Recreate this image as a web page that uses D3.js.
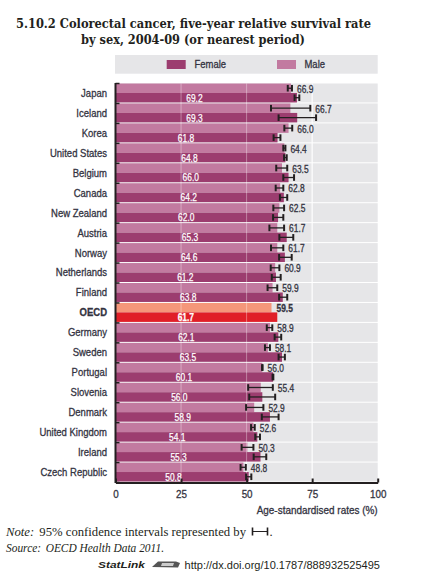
<!DOCTYPE html>
<html><head><meta charset="utf-8">
<script src="https://cdn.jsdelivr.net/npm/d3@7"></script>
<style>
html,body{margin:0;padding:0;background:#fff;}
svg{display:block;}
</style></head>
<body>
<svg id="chart" width="429" height="576"></svg>
<script>
const countries = ["Japan","Iceland","Korea","United States","Belgium","Canada","New Zealand","Austria","Norway","Netherlands","Finland","OECD","Germany","Sweden","Portugal","Slovenia","Denmark","United Kingdom","Ireland","Czech Republic"];
const maleVals   = [66.9,66.7,66.0,64.4,63.5,62.8,62.5,61.7,61.7,60.9,59.9,59.5,58.9,58.1,56.0,55.4,52.9,52.6,50.3,48.8];
const femaleVals = [69.2,69.3,61.8,64.8,66.0,64.2,62.0,65.3,64.6,61.2,63.8,61.7,62.1,63.5,60.1,56.0,58.9,54.1,55.3,50.8];
const maleLo   = [65.7,59.3,64.4,64.0,61.3,61.1,60.2,58.7,59.3,59.2,58.0,null,57.7,57.0,55.9,50.6,49.8,51.7,48.1,47.7];
const maleHi   = [67.3,74.3,67.4,64.8,65.5,64.0,64.3,64.3,64.0,62.5,61.7,null,59.8,58.9,56.1,60.0,56.4,53.1,52.6,49.7];
const femaleLo = [68.3,62.2,60.3,64.3,64.0,62.7,60.1,62.5,62.4,59.6,62.4,null,60.7,62.2,59.9,51.0,55.8,53.3,52.7,49.8];
const femaleHi = [70.1,76.5,62.9,65.3,68.1,65.5,64.0,67.8,67.2,63.0,65.5,null,63.2,64.6,60.2,60.9,62.2,55.1,57.5,51.8];
const xTicks = [0,25,50,75,100];
const highlight = "OECD";

const svg = d3.select("#chart");
const FONT = '"Liberation Sans",Arial,Helvetica,sans-serif';
const SERIF = '"Liberation Serif","DejaVu Serif",serif';

function condense(sel,k){
  sel.each(function(){
    const w=this.getComputedTextLength();
    this.setAttribute("textLength",(w*k).toFixed(2));
    this.setAttribute("lengthAdjust","spacingAndGlyphs");
  });
}
function thicken(sel,c,w){
  sel.attr("stroke",c).attr("stroke-width",w).attr("paint-order","stroke");
}

const x = d3.scaleLinear().domain([0,100]).range([115.5,377.7]);
const y = d3.scaleBand().domain(countries).range([83.5,482.5]);
const step = y.step();
const half = (step-1)/2;

const col = {
  female:"#9c3d6f", male:"#c27aa0",
  oFemale:"#e01f27", oMale:"#f5977a",
  bg:"#e6e6e8", text:"#33333f"
};

// title
const title = svg.append("g").attr("font-family",'"DejaVu Serif Condensed","DejaVu Serif",serif').attr("font-weight","bold").attr("font-size",13.5).attr("fill","#231f20");
title.append("text").attr("x",16).attr("y",27.5).attr("textLength",355).attr("lengthAdjust","spacingAndGlyphs")
  .text("5.10.2  Colorectal cancer, five-year relative survival rate");
title.append("text").attr("x",81).attr("y",43.5).attr("textLength",224).attr("lengthAdjust","spacingAndGlyphs")
  .text("by sex, 2004-09 (or nearest period)");

// legend
const lg = svg.append("g");
lg.append("rect").attr("x",115).attr("y",55).attr("width",262.7).attr("height",18.7).attr("fill",col.bg);
lg.append("rect").attr("x",166.7).attr("y",60).attr("width",19).attr("height",9).attr("fill",col.female);
lg.append("rect").attr("x",277).attr("y",60).attr("width",19).attr("height",9).attr("fill",col.male);
const lgt = lg.selectAll("text").data([["Female",194.5],["Male",304.5]]).join("text")
  .attr("x",d=>d[1]).attr("y",64.7).attr("dy","0.35em").attr("font-family",FONT).attr("font-size",10.5).attr("fill",col.text).text(d=>d[0]);
condense(lgt,0.9);
thicken(lgt,col.text,0.3);

// row backgrounds
const plot = svg.append("g");
plot.selectAll("rect.bg").data(countries).join("rect").attr("class","bg")
  .attr("x",x(0)).attr("width",x(100)-x(0))
  .attr("y",d=>y(d)).attr("height",step-1).attr("fill",col.bg);

// gridlines under bars
plot.selectAll("line.grid").data([25,50,75]).join("line").attr("class","grid")
  .attr("x1",d=>x(d)).attr("x2",d=>x(d)).attr("y1",y.range()[0]).attr("y2",y.range()[1])
  .attr("stroke","#fff").attr("stroke-width",1);

const rows = countries.map((c,i)=>({c,i,m:maleVals[i],f:femaleVals[i],mlo:maleLo[i],mhi:maleHi[i],flo:femaleLo[i],fhi:femaleHi[i]}));

// bars
plot.selectAll("rect.male").data(rows).join("rect").attr("class","male")
  .attr("x",x(0)).attr("y",d=>y(d.c)).attr("width",d=>x(d.m)-x(0)).attr("height",half)
  .attr("fill",d=>d.c===highlight?col.oMale:col.male);
plot.selectAll("rect.female").data(rows).join("rect").attr("class","female")
  .attr("x",x(0)).attr("y",d=>y(d.c)+half).attr("width",d=>x(d.f)-x(0)).attr("height",half)
  .attr("fill",d=>d.c===highlight?col.oFemale:col.female);

// faint gridlines over bars
plot.selectAll("line.grid2").data([25,50,75]).join("line").attr("class","grid2")
  .attr("x1",d=>x(d)).attr("x2",d=>x(d)).attr("y1",y.range()[0]).attr("y2",y.range()[1])
  .attr("stroke","#fff").attr("stroke-width",0.8).attr("stroke-opacity",0.45);

// error bars
const eb = plot.append("g").attr("stroke","#231f20");
function errBar(lo,hi,cy){
  eb.append("line").attr("x1",x(lo)).attr("x2",x(hi)).attr("y1",cy).attr("y2",cy).attr("stroke-width",1.3);
  [lo,hi].forEach(v=>eb.append("line").attr("x1",x(v)).attr("x2",x(v)).attr("y1",cy-3.3).attr("y2",cy+3.3).attr("stroke-width",2));
}
rows.forEach(d=>{
  if(d.mlo!=null){ errBar(d.mlo,d.mhi,y(d.c)+half/2); }
  if(d.flo!=null){ errBar(d.flo,d.fhi,y(d.c)+half*1.5); }
});

// value labels
const ml = plot.selectAll("text.mlab").data(rows).join("text").attr("class","mlab")
  .attr("x",d=>x(d.mhi!=null?d.mhi:d.m)+5).attr("y",d=>y(d.c)+half/2+0.8).attr("dy","0.35em")
  .attr("font-family",FONT).attr("font-size",10.5).attr("fill",col.text)
  .attr("font-weight",d=>d.c===highlight?"bold":null)
  .text(d=>d.m.toFixed(1));
condense(ml,0.8);
thicken(ml,col.text,0.3);
const fl = plot.selectAll("text.flab").data(rows).join("text").attr("class","flab")
  .attr("x",d=>x(d.f*0.435)).attr("y",d=>y(d.c)+half*1.5+0.3).attr("dy","0.35em").attr("text-anchor","middle")
  .attr("font-family",FONT).attr("font-size",10.5).attr("fill","#fff")
  .attr("font-weight",d=>d.c===highlight?"bold":null)
  .text(d=>d.f.toFixed(1));
condense(fl,0.8);
thicken(fl,"#fff",0.25);

// y axis labels
const ya = svg.append("g").attr("transform",`translate(${x(0)},0)`)
  .call(d3.axisLeft(y).tickSize(0).tickPadding(8.5));
ya.select(".domain").remove();
const yt = ya.selectAll("text").attr("font-family",FONT).attr("font-size",10.8).attr("fill",col.text)
  .attr("font-weight",d=>d===highlight?"bold":null);
condense(yt,0.88);
thicken(yt,col.text,0.3);
// y axis line + boundary ticks
const bounds = countries.map(c=>y(c)).concat([y.range()[1]]);
svg.append("g").selectAll("line").data(bounds).join("line")
  .attr("x1",x(0)).attr("x2",x(0)+4).attr("y1",d=>d).attr("y2",d=>d)
  .attr("stroke","#231f20").attr("stroke-width",1.5);
svg.append("line").attr("x1",x(0)).attr("x2",x(0)).attr("y1",y.range()[0]-0.5).attr("y2",y.range()[1]+0.5)
  .attr("stroke","#231f20").attr("stroke-width",2);

// x axis
const xa = svg.append("g").attr("transform",`translate(0,${y.range()[1]})`)
  .call(d3.axisBottom(x).tickValues(xTicks).tickSizeInner(-4).tickSizeOuter(0).tickPadding(8).tickFormat(d3.format("d")));
xa.select(".domain").attr("stroke","#231f20").attr("stroke-width",2);
xa.selectAll(".tick line").attr("stroke","#231f20").attr("stroke-width",2);
const xt = xa.selectAll("text").attr("font-family",FONT).attr("font-size",11.2).attr("fill",col.text);
condense(xt,0.88);
thicken(xt,col.text,0.3);
const at = svg.append("text").attr("x",x(100)).attr("y",514).attr("text-anchor","end")
  .attr("font-family",FONT).attr("font-size",11).attr("fill",col.text)
  .attr("textLength",121).attr("lengthAdjust","spacingAndGlyphs").text("Age-standardised rates (%)");
thicken(at,col.text,0.3);

// footer
const ft = svg.append("g").attr("font-family",SERIF).attr("font-size",12.5).attr("fill","#231f20");
const n = ft.append("text").attr("x",6).attr("y",535.5).attr("textLength",240).attr("lengthAdjust","spacingAndGlyphs");
n.append("tspan").attr("font-style","italic").text("Note:");
n.append("tspan").attr("dx",5).text("95% confidence intervals represented by");
const icon = ft.append("g").attr("stroke","#231f20");
icon.append("line").attr("x1",252.5).attr("x2",268).attr("y1",531.5).attr("y2",531.5).attr("stroke-width",1);
icon.append("line").attr("x1",252.5).attr("x2",252.5).attr("y1",527.5).attr("y2",535.5).attr("stroke-width",1.6);
icon.append("line").attr("x1",267.5).attr("x2",267.5).attr("y1",527.5).attr("y2",535.5).attr("stroke-width",1.6);
ft.append("text").attr("x",269.5).attr("y",535.5).text(".");
const s = ft.append("text").attr("x",6).attr("y",552).attr("font-style","italic").attr("textLength",158).attr("lengthAdjust","spacingAndGlyphs");
s.append("tspan").text("Source:");
s.append("tspan").attr("dx",5).text("OECD Health Data 2011.");

svg.append("text").attr("x",98).attr("y",567.5).attr("font-family",FONT).attr("font-size",9.5)
  .attr("font-style","italic").attr("font-weight","bold").attr("fill","#231f20")
  .attr("textLength",47).attr("lengthAdjust","spacingAndGlyphs").text("StatLink");
const logo = svg.append("g");
logo.append("path").attr("d","M152,567 L158,561.5 L176,561.5 L180,563 L178,567.5 Z").attr("fill","#555");
logo.append("path").attr("d","M162,563 L174,563 L173,566 L161,566 Z").attr("fill","#ccc");
svg.append("text").attr("x",184.5).attr("y",568.5).attr("font-family",FONT)
  .attr("font-size",11.5).attr("fill","#231f20").attr("textLength",195.5).attr("lengthAdjust","spacingAndGlyphs")
  .text("http://dx.doi.org/10.1787/888932525495");
</script>
</body></html>
